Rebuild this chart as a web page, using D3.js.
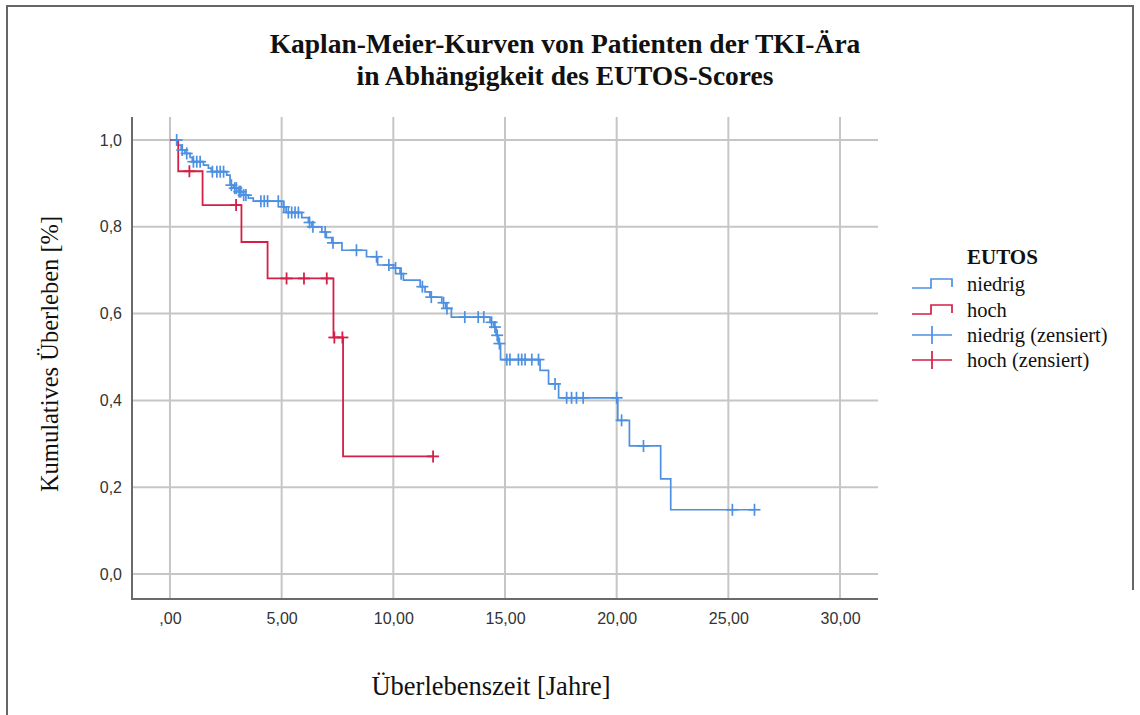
<!DOCTYPE html>
<html>
<head>
<meta charset="utf-8">
<script src="https://cdn.jsdelivr.net/npm/d3@7"></script>
<style>
  body { margin: 0; background: #fff; }
  svg { display: block; }
</style>
</head>
<body>
<div id="chart"></div>
<script>
// Kaplan-Meier values
const niedrigTimes = [0, 0.35, 0.5, 0.67, 0.9, 1.0, 1.5, 1.72, 1.85, 2.54, 2.69, 2.84, 3.06, 3.28, 3.51, 3.73,
    5.0, 5.2, 5.9, 6.2, 6.35, 6.8, 7.0, 7.25, 7.7, 8.8, 9.3, 10.0, 10.3, 10.45, 11.2, 11.42, 11.64, 12.17,
    12.35, 12.6, 14.33, 14.5, 14.6, 14.7, 14.8, 16.57, 16.95, 17.4, 20.05, 20.57, 21.97, 22.42];
const niedrigSurv = [1.0, 0.988, 0.977, 0.969, 0.96, 0.95, 0.942, 0.935, 0.927, 0.919, 0.896, 0.889, 0.881, 0.873, 0.866, 0.859,
    0.846, 0.833, 0.821, 0.81, 0.80, 0.788, 0.775, 0.763, 0.746, 0.731, 0.712, 0.705, 0.692, 0.677, 0.662, 0.65, 0.638, 0.625,
    0.612, 0.592, 0.58, 0.569, 0.55, 0.531, 0.494, 0.469, 0.438, 0.406, 0.354, 0.295, 0.219, 0.148];
const niedrigEnd = 26.2;
const niedrigCensored = [0.3, 0.55, 0.75, 1.05, 1.2, 1.35, 1.9, 2.1, 2.25, 2.4, 2.75, 2.9, 2.97, 3.1, 3.17, 3.3, 3.4,
    4.07, 4.22, 4.37, 4.85, 5.1, 5.3, 5.45, 5.6, 5.75, 6.25, 6.4, 6.95, 7.3, 8.35, 9.25, 9.8, 10.1, 10.35, 11.3, 11.7,
    12.25, 12.4, 13.2, 13.8, 14.05, 14.4, 14.55, 14.65, 14.75, 15.08, 15.22, 15.6, 15.75, 15.9, 16.2, 16.5,
    17.24, 17.76, 17.98, 18.2, 18.5, 20.0, 20.22, 21.2, 25.18, 26.17];

const hochTimes = [0, 0.37, 1.46, 3.2, 4.37, 7.32, 7.75];
const hochSurv = [1.0, 0.928, 0.85, 0.765, 0.681, 0.545, 0.271];
const hochEnd = 11.8;
const hochCensored = [0.87, 2.96, 5.22, 6.0, 7.02, 7.36, 7.72, 11.78];

const xTicks = [0, 5, 10, 15, 20, 25, 30];
const xTickLabels = [",00", "5,00", "10,00", "15,00", "20,00", "25,00", "30,00"];
const yTicks = [0, 0.2, 0.4, 0.6, 0.8, 1.0];
const yTickLabels = ["0,0", "0,2", "0,4", "0,6", "0,8", "1,0"];

const legendTitle = "EUTOS";
const legendItems = ["niedrig", "hoch", "niedrig (zensiert)", "hoch (zensiert)"];

const blue = "#4d90e2", red = "#d41f47";
const W = 1140, H = 715;
const plot = {left: 132, right: 878, top: 117, bottom: 599};

const svg = d3.select("#chart").append("svg")
    .attr("width", W).attr("height", H);

// outer frame
svg.append("path")
    .attr("d", `M7,${H} V6 H1133 V590`)
    .attr("fill", "none").attr("stroke", "#666").attr("stroke-width", 2);

const x = d3.scaleLinear().domain([-1.7, 31.7]).range([plot.left, plot.right]);
const y = d3.scaleLinear().domain([-0.0576, 1.053]).range([plot.bottom, plot.top]);

// grid
const grid = svg.append("g").attr("stroke", "#c6c6c6").attr("stroke-width", 2);
grid.selectAll(".hg").data(yTicks).enter().append("line")
    .attr("x1", plot.left).attr("x2", plot.right)
    .attr("y1", d => y(d)).attr("y2", d => y(d));
grid.selectAll(".vg").data(xTicks).enter().append("line")
    .attr("y1", plot.top).attr("y2", plot.bottom)
    .attr("x1", d => x(d)).attr("x2", d => x(d));

// axes (lines only, labels below)
svg.append("path")
    .attr("d", `M${plot.left},${plot.top} V${plot.bottom} H${plot.right}`)
    .attr("fill", "none").attr("stroke", "#6a6a6a").attr("stroke-width", 2);

const xAxis = svg.append("g")
    .attr("transform", `translate(0,${plot.bottom})`)
    .call(d3.axisBottom(x).tickValues(xTicks).tickSize(0).tickPadding(14)
        .tickFormat((d, i) => xTickLabels[i]));
xAxis.select(".domain").remove();
xAxis.selectAll("text").attr("font-family", "Liberation Sans, Arial, sans-serif")
    .attr("font-size", 16).attr("fill", "#333");

const yAxis = svg.append("g")
    .attr("transform", `translate(${plot.left},0)`)
    .call(d3.axisLeft(y).tickValues(yTicks).tickSize(0).tickPadding(10)
        .tickFormat((d, i) => yTickLabels[i]));
yAxis.select(".domain").remove();
yAxis.selectAll("text").attr("font-family", "Liberation Sans, Arial, sans-serif")
    .attr("font-size", 16).attr("fill", "#333");

// step curves
function stepData(times, surv, end) {
    const pts = times.map((t, i) => ({t: t, s: surv[i]}));
    pts.push({t: end, s: surv[surv.length - 1]});
    return pts;
}
const line = d3.line().x(d => x(d.t)).y(d => y(d.s)).curve(d3.curveStepAfter);

const bisect = d3.bisector(d => d).right;
function survAt(times, surv, t) {
    return surv[Math.max(0, bisect(times, t) - 1)];
}

svg.append("path")
    .datum(stepData(niedrigTimes, niedrigSurv, niedrigEnd))
    .attr("d", line).attr("fill", "none")
    .attr("stroke", blue).attr("stroke-width", 1.7);

svg.append("path")
    .datum(stepData(hochTimes, hochSurv, hochEnd))
    .attr("d", line).attr("fill", "none")
    .attr("stroke", red).attr("stroke-width", 1.8);

function crosses(times, surv, censored, color, half, sw) {
    const g = svg.append("g").attr("stroke", color).attr("stroke-width", sw);
    censored.forEach(t => {
        const cx = x(t), cy = y(survAt(times, surv, t));
        g.append("line").attr("x1", cx - half).attr("x2", cx + half).attr("y1", cy).attr("y2", cy);
        g.append("line").attr("x1", cx).attr("x2", cx).attr("y1", cy - half).attr("y2", cy + half);
    });
}
crosses(niedrigTimes, niedrigSurv, niedrigCensored, blue, 6, 1.7);
crosses(hochTimes, hochSurv, hochCensored, red, 6, 1.8);

// titles
const serif = "Liberation Serif, Times New Roman, serif";
const title = svg.append("text").attr("text-anchor", "middle")
    .attr("font-family", serif).attr("font-weight", "bold").attr("font-size", 27.5).attr("fill", "#111");
title.append("tspan").attr("x", 565).attr("y", 53).text("Kaplan-Meier-Kurven von Patienten der TKI-Ära");
title.append("tspan").attr("x", 565).attr("y", 85).text("in Abhängigkeit des EUTOS-Scores");

svg.append("text")
    .attr("transform", "translate(58,354) rotate(-90)")
    .attr("text-anchor", "middle").attr("font-family", serif).attr("font-size", 24.5).attr("fill", "#111")
    .text("Kumulatives Überleben [%]");

svg.append("text")
    .attr("x", 491).attr("y", 695)
    .attr("text-anchor", "middle").attr("font-family", serif).attr("font-size", 26.5).attr("fill", "#111")
    .text("Überlebenszeit [Jahre]");

// legend
const leg = svg.append("g");
leg.append("text").attr("x", 967).attr("y", 264)
    .attr("font-family", serif).attr("font-weight", "bold").attr("font-size", 21).attr("fill", "#111")
    .text(legendTitle);
const rowY = [284, 310, 335, 360];
const rowColor = [blue, red, blue, red];
legendItems.forEach((name, i) => {
    const cy = rowY[i];
    if (i < 2) {
        leg.append("path")
            .attr("d", `M912,${cy + 4} H931 V${cy - 5} H952 V${cy + 3}`)
            .attr("fill", "none").attr("stroke", rowColor[i]).attr("stroke-width", 1.7);
    } else {
        leg.append("path")
            .attr("d", `M912,${cy} H952 M932,${cy - 9} V${cy + 9}`)
            .attr("fill", "none").attr("stroke", rowColor[i]).attr("stroke-width", 1.7);
    }
    leg.append("text").attr("x", 967).attr("y", cy + 7)
        .attr("font-family", serif).attr("font-size", 20.5).attr("fill", "#111")
        .text(name);
});
</script>
</body>
</html>
